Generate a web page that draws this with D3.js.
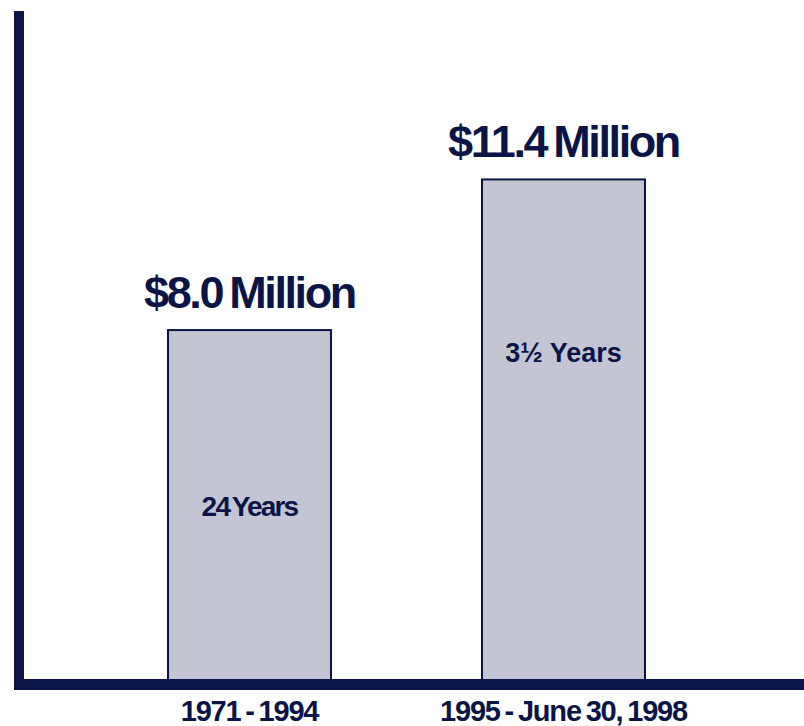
<!DOCTYPE html>
<html>
<head>
<meta charset="utf-8">
<script src="https://cdn.jsdelivr.net/npm/d3@7"></script>
<style>
  body { margin: 0; background: #fff; }
  svg text { font-family: "Liberation Sans", Arial, sans-serif; font-weight: bold; fill: #0b1447; }
</style>
</head>
<body>
<svg id="chart" width="804" height="726"></svg>
<script>
"use strict";

/* Chart data */
const periods = ["1971 - 1994", "1995 - June 30, 1998"];
const amounts = [8.0, 11.4];
const amountLabels = ["$8.0 Million", "$11.4 Million"];
const durationLabels = ["24 Years", "3\u00BD Years"];

const navy = "#0b1447",
      barFill = "#c3c5d3";

const svg = d3.select("#chart");

/* Scales */
const x = d3.scaleBand()
    .domain(periods)
    .range([92.5, 720.5])
    .paddingInner(0.481)
    .paddingOuter(0.2405);

const y = d3.scaleLinear()
    .domain([0, 15.45])
    .range([684.5, 0]);

const rows = periods.map(function(p, i) {
  return {period: p, value: amounts[i], label: amountLabels[i], duration: durationLabels[i]};
});

/* Bars */
svg.selectAll(".bar")
    .data(rows)
    .enter().append("rect")
    .attr("class", "bar")
    .attr("x", function(d) { return x(d.period); })
    .attr("y", function(d) { return y(d.value); })
    .attr("width", x.bandwidth())
    .attr("height", function(d) { return y(0) - y(d.value); })
    .attr("fill", barFill)
    .attr("stroke", navy)
    .attr("stroke-width", 2);

/* Value labels above bars */
svg.selectAll(".amount")
    .data(rows)
    .enter().append("text")
    .attr("class", "amount")
    .attr("x", function(d) { return x(d.period) + x.bandwidth() / 2; })
    .attr("y", function(d) { return y(d.value) - 22; })
    .attr("text-anchor", "middle")
    .style("font-size", "45px")
    .style("letter-spacing", "-2.4px")
    .style("word-spacing", "-3px")
    .text(function(d) { return d.label; });

/* Duration labels inside bars */
svg.selectAll(".duration")
    .data(rows)
    .enter().append("text")
    .attr("class", "duration")
    .attr("x", function(d) { return x(d.period) + x.bandwidth() / 2; })
    .attr("y", function(d, i) { return i === 0 ? 516 : 362; })
    .attr("text-anchor", "middle")
    .style("font-size", function(d, i) { return i === 0 ? "28px" : "27px"; })
    .style("letter-spacing", function(d, i) { return i === 0 ? "-1.8px" : "0px"; })
    .style("word-spacing", function(d, i) { return i === 0 ? "-3px" : "0px"; })
    .text(function(d) { return d.duration; });

/* Axis lines */
svg.append("line")
    .attr("x1", 14).attr("x2", 804)
    .attr("y1", y(0)).attr("y2", y(0))
    .attr("stroke", navy)
    .attr("stroke-width", 11);

svg.append("line")
    .attr("x1", 19).attr("x2", 19)
    .attr("y1", 11).attr("y2", y(0) + 5.5)
    .attr("stroke", navy)
    .attr("stroke-width", 10);

/* Category labels */
const xAxis = svg.append("g")
    .attr("transform", "translate(0," + (y(0) + 5.5) + ")")
    .call(d3.axisBottom(x).tickSize(0).tickPadding(0));

xAxis.select(".domain").remove();
xAxis.selectAll("text")
    .attr("dy", null)
    .attr("y", 31)
    .attr("fill", navy)
    .style("font-family", "'Liberation Sans', Arial, sans-serif")
    .style("font-weight", "bold")
    .style("font-size", "29px")
    .style("letter-spacing", "-1.2px")
    .style("word-spacing", "-2px");
</script>
</body>
</html>
